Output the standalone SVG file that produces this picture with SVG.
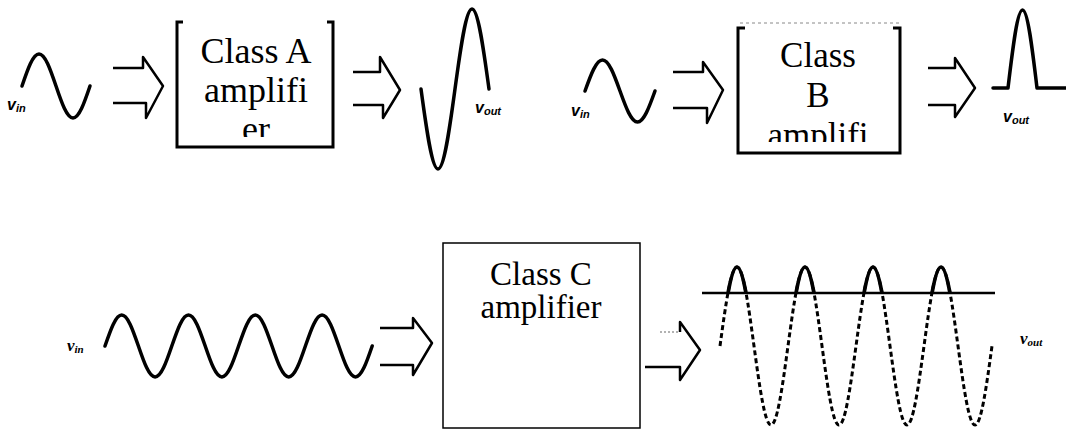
<svg xmlns="http://www.w3.org/2000/svg" width="1066" height="431" viewBox="0 0 1066 431">
<style>
.wave{fill:none;stroke:#000;stroke-width:3.5;stroke-linecap:round;stroke-linejoin:round}
.dash{fill:none;stroke:#000;stroke-width:3;stroke-dasharray:5 3}
.arr{fill:none;stroke:#000;stroke-width:2.5;stroke-linejoin:round}
.brk{fill:none;stroke:#000;stroke-width:3}
</style>
<defs>
<clipPath id="clipA"><rect x="170" y="0" width="170" height="137"/></clipPath>
<clipPath id="clipB"><rect x="735" y="0" width="170" height="142"/></clipPath>
<clipPath id="clipTop"><rect x="690" y="0" width="320" height="293"/></clipPath>
</defs>
<rect width="1066" height="431" fill="#fff"/>

<g id="input-a">
<path class="wave" d="M22,86 C27.68,69.2 32.88,54 39,54 C45.12,54 50.32,69.2 56,86 C61.68,102.8 66.88,118 73,118 C79.12,118 84.32,102.8 90,86"/>
<text font-family="Liberation Sans, sans-serif" font-weight="bold" font-style="italic" font-size="16" x="7" y="110">v<tspan font-size="11" dy="2">in</tspan></text>
</g>

<g id="class-a">
<path class="brk" d="M183,22 H177 V147 H333 V22 H327"/>
<g clip-path="url(#clipA)">
<text font-family="Times New Roman" text-anchor="middle" font-size="36" x="256" y="63">Class A</text>
<text font-family="Times New Roman" text-anchor="middle" font-size="36" x="256" y="102">amplifi</text>
<text font-family="Times New Roman" text-anchor="middle" font-size="36" x="256" y="141">er</text>
</g>
</g>

<g id="output-a">
<path class="wave" d="M421,89 C426.68,131 431.88,169 438,169 C444.12,169 449.32,131 455,89 C460.68,47 465.88,9 472,9 C478.12,9 483.32,47 489,89"/>
<text font-family="Liberation Sans, sans-serif" font-weight="bold" font-style="italic" font-size="16" x="475" y="113">v<tspan font-size="11" dy="2">out</tspan></text>
</g>

<g id="input-b">
<path class="wave" d="M585,91 C590.85,74.7 596.2,60 602.5,60 C608.8,60 614.15,74.7 620,91 C625.85,107.3 631.2,122 637.5,122 C643.8,122 649.15,107.3 655,91"/>
<text font-family="Liberation Sans, sans-serif" font-weight="bold" font-style="italic" font-size="16" x="571" y="116">v<tspan font-size="11" dy="2">in</tspan></text>
</g>

<g id="class-b">
<path d="M740,23 H902" fill="none" stroke="#888" stroke-width="1" stroke-dasharray="3 3"/>
<path class="brk" d="M745,28 H738 V153 H900 V28 H893"/>
<g clip-path="url(#clipB)">
<text font-family="Times New Roman" text-anchor="middle" font-size="35" x="818" y="67">Class</text>
<text font-family="Times New Roman" text-anchor="middle" font-size="35" x="818" y="107">B</text>
<text font-family="Times New Roman" text-anchor="middle" font-size="35" x="818" y="147">amplifi</text>
</g>
</g>

<g id="output-b">
<path class="wave" d="M993,88 L1008,88 C1012.85,47 1017.3,10 1022.5,10 C1027.7,10 1032.15,47 1037,88 L1066,88"/>
<text font-family="Liberation Sans, sans-serif" font-weight="bold" font-style="italic" font-size="16" x="1003" y="122">v<tspan font-size="11" dy="2">out</tspan></text>
</g>

<g id="input-c">
<path class="wave" d="M105,346 C110.58,329.7 115.69,315 121.7,315 C127.71,315 132.82,329.7 138.4,346 C143.98,362.3 149.09,377 155.1,377 C161.11,377 166.22,362.3 171.8,346 C177.38,329.7 182.49,315 188.5,315 C194.51,315 199.62,329.7 205.2,346 C210.78,362.3 215.89,377 221.9,377 C227.91,377 233.02,362.3 238.6,346 C244.18,329.7 249.29,315 255.3,315 C261.31,315 266.42,329.7 272,346 C277.58,362.3 282.69,377 288.7,377 C294.71,377 299.82,362.3 305.4,346 C310.98,329.7 316.09,315 322.1,315 C328.11,315 333.22,329.7 338.8,346 C344.38,362.3 349.49,377 355.5,377 C361.51,377 366.62,362.3 372.2,346"/>
<text font-family="Times New Roman" font-style="italic" font-weight="bold" font-size="17" x="67" y="351">v<tspan font-size="11" dy="2">in</tspan></text>
</g>

<g id="class-c">
<rect x="443" y="243" width="197" height="185" fill="none" stroke="#000" stroke-width="1.5"/>
<text font-family="Times New Roman" text-anchor="middle" font-size="33" x="541" y="285">Class C</text>
<text font-family="Times New Roman" text-anchor="middle" font-size="33" x="541" y="318">amplifier</text>
</g>

<g id="output-c">
<path class="dash" d="M720,346 C725.68,304.5 730.88,267 737,267 C743.12,267 748.32,304.5 754,346 C759.68,387.5 764.88,425 771,425 C777.12,425 782.32,387.5 788,346 C793.68,304.5 798.88,267 805,267 C811.12,267 816.32,304.5 822,346 C827.68,387.5 832.88,425 839,425 C845.12,425 850.32,387.5 856,346 C861.68,304.5 866.88,267 873,267 C879.12,267 884.32,304.5 890,346 C895.68,387.5 900.88,425 907,425 C913.12,425 918.32,387.5 924,346 C929.68,304.5 934.88,267 941,267 C947.12,267 952.32,304.5 958,346 C963.68,387.5 968.88,425 975,425 C981.12,425 986.32,387.5 992,346"/>
<path class="wave" clip-path="url(#clipTop)" d="M720,346 C725.68,304.5 730.88,267 737,267 C743.12,267 748.32,304.5 754,346 M788,346 C793.68,304.5 798.88,267 805,267 C811.12,267 816.32,304.5 822,346 M856,346 C861.68,304.5 866.88,267 873,267 C879.12,267 884.32,304.5 890,346 M924,346 C929.68,304.5 934.88,267 941,267 C947.12,267 952.32,304.5 958,346"/>
<path d="M702,293 H995" fill="none" stroke="#000" stroke-width="2.5"/>
<text font-family="Times New Roman" font-style="italic" font-weight="bold" font-size="17" x="1020" y="344">v<tspan font-size="11" dy="2">out</tspan></text>
</g>

<g id="connectors">
<path class="arr" d="M113,68 L143,68 L143,57 L163,86 L146,118 L146,103 L113,103"/>
<path class="arr" d="M353,72 L380,72 L380,57 L400,90 L383,118 L383,105 L353,105"/>
<path class="arr" d="M673,72 L703,72 L703,62 L723,90 L707,123 L707,108 L673,108"/>
<path class="arr" d="M928,68 L955,68 L955,58 L975,88 L955,117 L955,105 L928,105"/>
<path class="arr" d="M380,328 L413,328 L413,318 L432,343 L413,375 L413,365 L380,365"/>
<path d="M660,332 H680" fill="none" stroke="#999" stroke-width="1.5" stroke-dasharray="2 2"/>
<path class="arr" d="M680,332 L680,322 L700,350 L680,380 L680,367 L645,367"/>
</g>
</svg>
